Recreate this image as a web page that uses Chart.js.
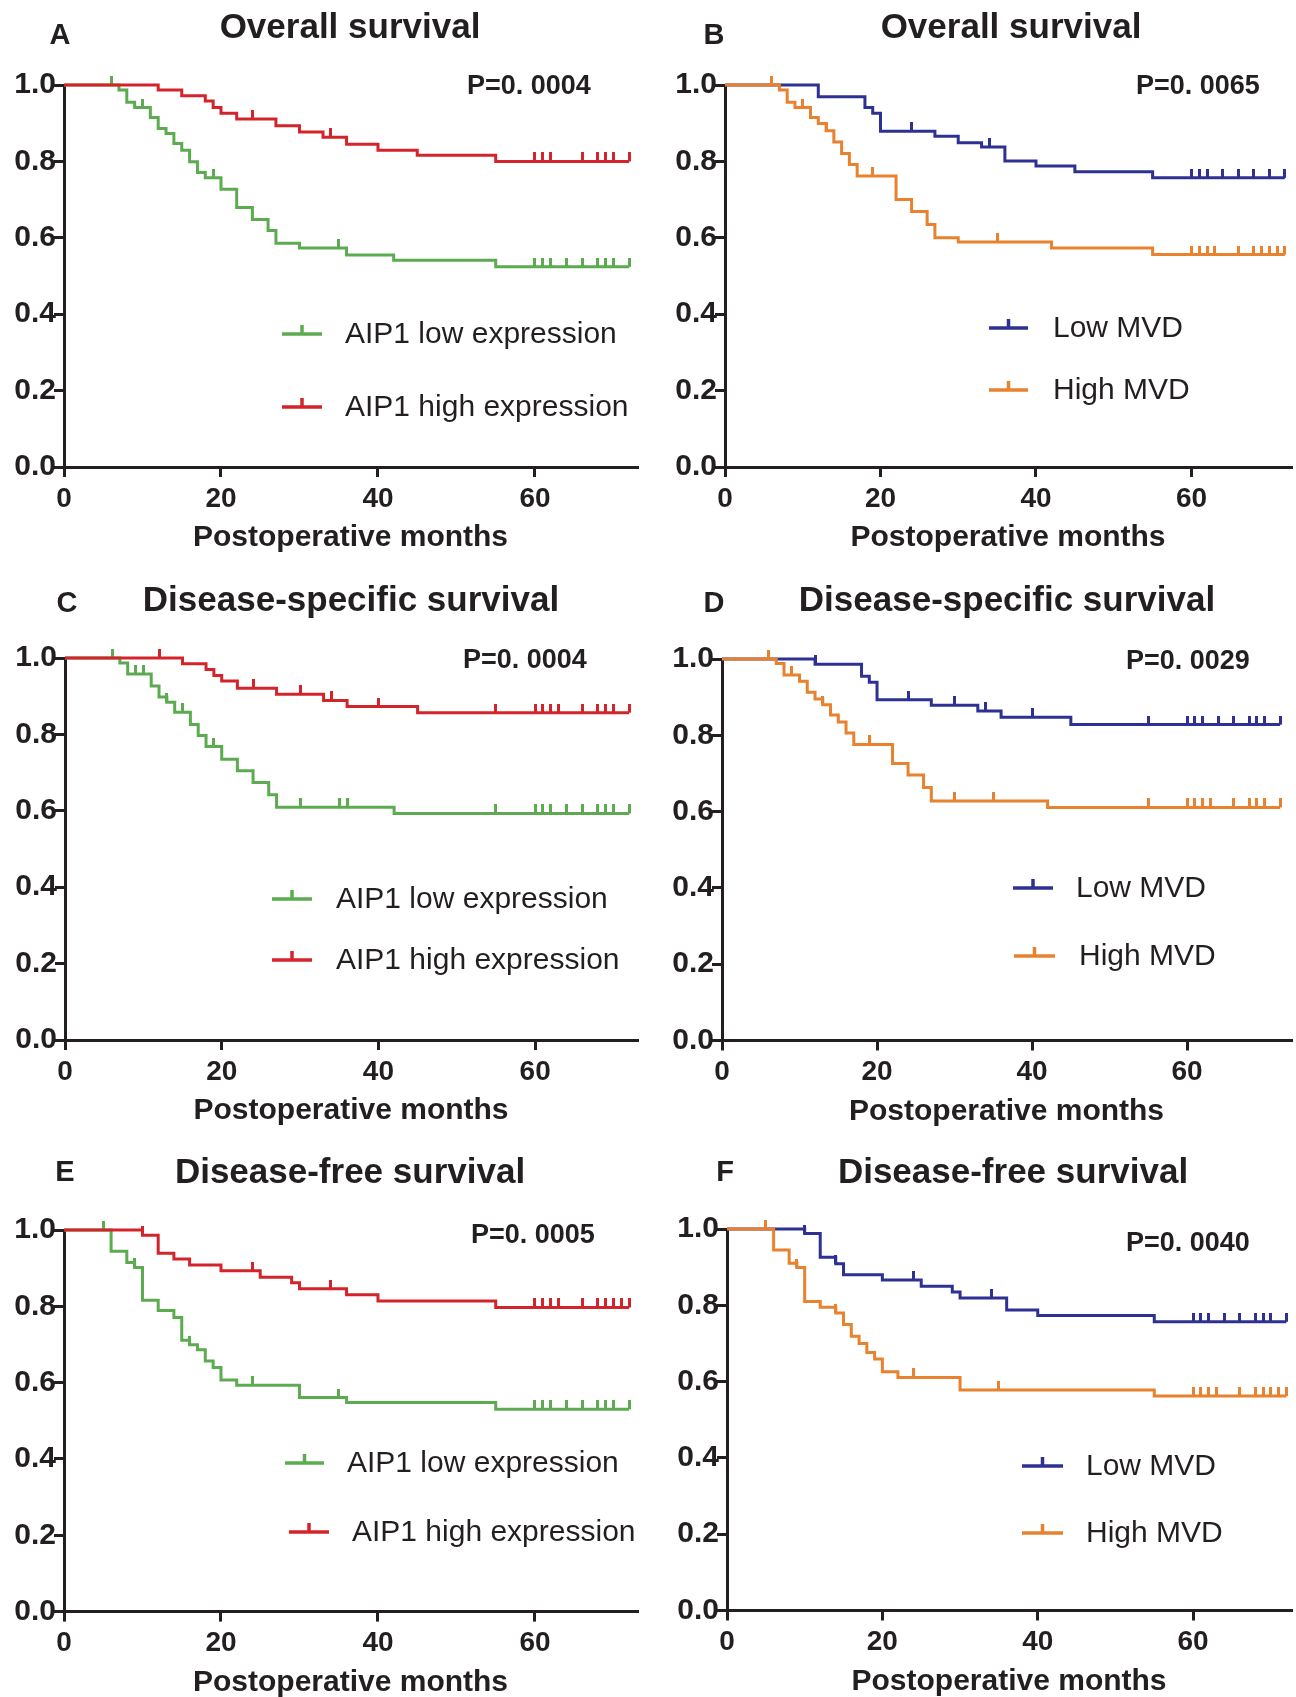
<!DOCTYPE html>
<html lang="en">
<head>
<meta charset="UTF-8">
<title>Kaplan-Meier survival curves</title>
<script src="https://cdn.jsdelivr.net/npm/chart.js"></script>
<style>
    body {
        margin: 0;
        background: #fff;
    }
    #figure {
        position: relative;
        width: 1296px;
        height: 1697px;
        overflow: hidden;
        background: #fff;
    }
    #figure canvas {
        position: absolute;
    }
</style>
</head>
<body>
<div id="figure">
    <canvas id="panelA" width="648" height="560" style="left:0;top:0"></canvas>
    <canvas id="panelB" width="648" height="560" style="left:648px;top:0"></canvas>
    <canvas id="panelC" width="648" height="570" style="left:0;top:560px"></canvas>
    <canvas id="panelD" width="648" height="570" style="left:648px;top:560px"></canvas>
    <canvas id="panelE" width="648" height="567" style="left:0;top:1130px"></canvas>
    <canvas id="panelF" width="648" height="567" style="left:648px;top:1130px"></canvas>
</div>

<script>
// axis ticks
const monthTicks = [0, 20, 40, 60];
const survTicks = [0, 0.2, 0.4, 0.6, 0.8, 1.0];

// group names
const AIP_LOW = 'AIP1 low expression';
const AIP_HIGH = 'AIP1 high expression';
const MVD_LOW = 'Low MVD';
const MVD_HIGH = 'High MVD';

// A - overall survival, AIP1
const aLowT = [0, 7, 8, 9, 11, 12, 13, 14, 15, 16, 17, 18, 20, 22, 24, 26, 27, 30, 36, 42, 55];
const aLowS = [1, .987, .955, .941, .915, .886, .873, .847, .829, .799, .771, .757, .727, .679, .648, .619, .586, .573, .555, .541, .524];
const aLowC = [6, 10, 19, 35, 60, 61, 62, 64, 66, 68, 69, 70, 72];
const aHighT = [0, 12, 15, 18, 19, 20, 22, 27, 30, 33, 36, 40, 45, 55];
const aHighS = [1, .987, .972, .958, .941, .926, .911, .893, .877, .863, .845, .829, .816, .800];
const aHighC = [24, 34, 60, 61, 62, 66, 68, 69, 70, 72];

// B - overall survival, MVD
const bLowT = [0, 12, 18, 19, 20, 27, 30, 33, 36, 40, 45, 55];
const bLowS = [1, .969, .941, .926, .879, .866, .849, .838, .801, .788, .773, .757];
const bLowC = [24, 34, 60, 61, 62, 64, 66, 68, 70, 72];
const bHighT = [0, 7, 8, 9, 11, 12, 13, 14, 15, 16, 17, 22, 24, 26, 27, 30, 42, 55];
const bHighS = [1, .987, .955, .941, .915, .899, .880, .851, .821, .792, .762, .700, .669, .635, .600, .589, .573, .556];
const bHighC = [6, 10, 13, 19, 35, 60, 61, 62, 63, 66, 68, 69, 70, 71, 72];

// C - disease-specific survival, AIP1
const cLowT = [0, 7, 8, 11, 12, 13, 14, 16, 17, 18, 20, 22, 24, 26, 27, 42];
const cLowS = [1, .987, .958, .927, .898, .884, .858, .826, .797, .768, .735, .705, .674, .642, .609, .593];
const cLowC = [6, 9, 10, 13, 15, 19, 30, 35, 36, 55, 60, 61, 62, 64, 66, 68, 69, 70, 72];
const cHighT = [0, 15, 18, 19, 20, 22, 27, 33, 36, 45];
const cHighS = [1, .985, .970, .954, .940, .921, .905, .889, .873, .857];
const cHighC = [12, 24, 30, 34, 40, 55, 60, 61, 62, 63, 66, 68, 69, 70, 72];

// D - disease-specific survival, MVD
const dLowT = [0, 12, 18, 19, 20, 27, 33, 36, 45];
const dLowS = [1, .986, .955, .939, .893, .879, .864, .847, .828];
const dLowC = [12, 24, 30, 34, 40, 55, 60, 61, 62, 64, 66, 68, 69, 70, 72];
const dHighT = [0, 7, 8, 10, 11, 12, 13, 14, 15, 16, 17, 22, 24, 26, 27, 42];
const dHighS = [1, .988, .958, .942, .913, .895, .880, .853, .835, .806, .776, .726, .696, .663, .628, .611];
const dHighC = [6, 9, 13, 19, 30, 35, 55, 60, 61, 62, 63, 66, 68, 69, 70, 72];

// E - disease-free survival, AIP1
const eLowT = [0, 6, 8, 9, 10, 12, 14, 15, 16, 17, 18, 19, 20, 22, 30, 36, 55];
const eLowS = [1, .944, .915, .902, .816, .789, .771, .711, .699, .686, .657, .640, .607, .593, .561, .548, .530];
const eLowC = [5, 9, 16, 24, 35, 60, 61, 62, 64, 66, 68, 69, 70, 72];
const eHighT = [0, 10, 12, 14, 16, 20, 25, 29, 30, 36, 40, 55];
const eHighS = [1, .986, .939, .924, .908, .893, .876, .862, .846, .830, .814, .797];
const eHighC = [10, 24, 34, 60, 61, 62, 63, 66, 68, 69, 70, 71, 72];

// F - disease-free survival, MVD
const fLowT = [0, 10, 12, 14, 15, 20, 25, 29, 30, 36, 40, 55];
const fLowS = [1, .988, .926, .909, .880, .866, .850, .835, .819, .788, .773, .757];
const fLowC = [10, 14, 24, 34, 60, 61, 62, 64, 66, 68, 69, 70, 72];
const fHighT = [0, 6, 8, 9, 10, 12, 14, 15, 16, 17, 18, 19, 20, 22, 30, 55];
const fHighS = [1, .945, .910, .899, .810, .795, .780, .750, .719, .700, .676, .659, .626, .611, .578, .562];
const fHighC = [5, 9, 14, 24, 35, 60, 61, 62, 63, 66, 68, 69, 70, 71, 72];

const INK = '#231f20';
const GREEN = '#5cab50';
const RED = '#d3242b';
const BLUE = '#2e3192';
const ORANGE = '#e8822e';
const FONT = '"Liberation Sans", Arial, sans-serif';

Chart.defaults.font.family = FONT;
Chart.defaults.color = INK;

// panel layout (canvas-local pixels)
const panels = [
    { id: 'panelA', letter: 'A', title: 'Overall survival', p: 'P=0. 0004',
      groups: [[AIP_LOW, GREEN, aLowT, aLowS, aLowC], [AIP_HIGH, RED, aHighT, aHighS, aHighC]],
      yWidth: 64, xHeight: 93, padTop: 85, padRight: 11, xMax: 73, xTitlePad: 4,
      letterPos: [60, 36], titlePos: [350, 28], pPos: [467, 87],
      legend: [[282, 322, 334, 345], [282, 322, 407, 345]] },
    { id: 'panelB', letter: 'B', title: 'Overall survival', p: 'P=0. 0065',
      groups: [[MVD_LOW, BLUE, bLowT, bLowS, bLowC], [MVD_HIGH, ORANGE, bHighT, bHighS, bHighC]],
      yWidth: 77, xHeight: 93, padTop: 85, padRight: 0, xMax: 72.8, xTitlePad: 4,
      letterPos: [66, 36], titlePos: [363, 28], pPos: [488, 87],
      legend: [[341, 380, 328, 405], [341, 380, 390, 405]] },
    { id: 'panelC', letter: 'C', title: 'Disease-specific survival', p: 'P=0. 0004',
      groups: [[AIP_LOW, GREEN, cLowT, cLowS, cLowC], [AIP_HIGH, RED, cHighT, cHighS, cHighC]],
      yWidth: 65, xHeight: 90, padTop: 98, padRight: 11, xMax: 73, xTitlePad: 1,
      letterPos: [67, 44], titlePos: [351, 41], pPos: [463, 101],
      legend: [[272, 312, 339, 336], [272, 312, 400, 336]] },
    { id: 'panelD', letter: 'D', title: 'Disease-specific survival', p: 'P=0. 0029',
      groups: [[MVD_LOW, BLUE, dLowT, dLowS, dLowC], [MVD_HIGH, ORANGE, dHighT, dHighS, dHighC]],
      yWidth: 74, xHeight: 89.5, padTop: 99, padRight: 0, xMax: 73.4, xTitlePad: 0.5,
      letterPos: [66, 44], titlePos: [359, 41], pPos: [478, 102],
      legend: [[365, 405, 328, 428], [366, 407, 396, 431]] },
    { id: 'panelE', letter: 'E', title: 'Disease-free survival', p: 'P=0. 0005',
      groups: [[AIP_LOW, GREEN, eLowT, eLowS, eLowC], [AIP_HIGH, RED, eHighT, eHighS, eHighC]],
      yWidth: 64, xHeight: 85.4, padTop: 100, padRight: 11, xMax: 73, xTitlePad: -3.6,
      letterPos: [65, 43], titlePos: [350, 43], pPos: [471, 106],
      legend: [[285, 324, 333, 347], [289, 329, 402, 352]] },
    { id: 'panelF', letter: 'F', title: 'Disease-free survival', p: 'P=0. 0040',
      groups: [[MVD_LOW, BLUE, fLowT, fLowS, fLowC], [MVD_HIGH, ORANGE, fHighT, fHighS, fHighC]],
      yWidth: 79, xHeight: 86.5, padTop: 99, padRight: 0, xMax: 72.6, xTitlePad: -2.5,
      letterPos: [77, 43], titlePos: [365, 43], pPos: [478, 114],
      legend: [[374, 415, 336, 438], [374, 415, 403, 438]] }
];

// survival value at month x (step function)
function survAt(t, s, x) {
    let v = s[0];
    for (let i = 0; i < t.length; i++) {
        if (t[i] <= x) v = s[i];
    }
    return v;
}

// censor mark: short vertical stroke going up from the point
function censorMark(color) {
    const c = document.createElement('canvas');
    c.width = 3;
    c.height = 18;
    const g = c.getContext('2d');
    g.fillStyle = color;
    g.fillRect(0, 0, 3, 9);
    return c;
}

// letter, title, p value and legend
const panelText = {
    id: 'panelText',
    afterDraw(chart, args, o) {
        const ctx = chart.ctx;
        ctx.save();
        ctx.fillStyle = INK;
        ctx.textBaseline = 'middle';
        ctx.textAlign = 'center';
        ctx.font = 'bold 29px ' + FONT;
        ctx.fillText(o.letter, o.letterPos[0], o.letterPos[1]);
        ctx.font = 'bold 35px ' + FONT;
        ctx.fillText(o.title, o.titlePos[0], o.titlePos[1]);
        ctx.textAlign = 'left';
        ctx.font = 'bold 27px ' + FONT;
        ctx.fillText(o.p, o.pPos[0], o.pPos[1]);

        ctx.font = '30px ' + FONT;
        o.legend.forEach((e, i) => {
            const ds = chart.data.datasets[i];
            const [x1, x2, y, tx] = e;
            ctx.strokeStyle = ds.borderColor;
            ctx.lineWidth = 3.5;
            ctx.beginPath();
            ctx.moveTo(x1, y);
            ctx.lineTo(x2, y);
            const mid = (x1 + x2) / 2;
            ctx.moveTo(mid, y);
            ctx.lineTo(mid, y - 9);
            ctx.stroke();
            ctx.fillStyle = INK;
            ctx.fillText(ds.label, tx, y + 1);
        });
        ctx.restore();
    }
};

panels.forEach(p => {
    const lines = [];
    const marks = [];
    p.groups.forEach((g, i) => {
        const [label, color, t, s, c] = g;
        const pts = t.map((x, k) => ({ x: x, y: s[k] }));
        const end = Math.max(...c);
        if (end > t[t.length - 1]) pts.push({ x: end, y: s[s.length - 1] });
        lines.push({
            label: label,
            data: pts,
            borderColor: color,
            borderWidth: 3,
            stepped: true,
            pointRadius: 0,
            fill: false,
            clip: false,
            order: 2 - i
        });
        marks.push({
            label: label + ' censored',
            data: c.map(x => ({ x: x, y: survAt(t, s, x) })),
            showLine: false,
            pointStyle: censorMark(color),
            pointRadius: 3,
            clip: false,
            order: 2 - i
        });
    });

    new Chart(document.getElementById(p.id), {
        type: 'line',
        data: { datasets: lines.concat(marks) },
        options: {
            responsive: false,
            animation: false,
            events: [],
            layout: { padding: { top: p.padTop, right: p.padRight, left: 0, bottom: 0 } },
            plugins: {
                legend: { display: false },
                tooltip: { enabled: false },
                panelText: {
                    letter: p.letter, title: p.title, p: p.p,
                    letterPos: p.letterPos, titlePos: p.titlePos, pPos: p.pPos,
                    legend: p.legend
                }
            },
            scales: {
                x: {
                    type: 'linear',
                    min: 0,
                    max: p.xMax,
                    afterFit: s => { s.height = p.xHeight; },
                    afterBuildTicks: s => { s.ticks = monthTicks.map(v => ({ value: v })); },
                    ticks: {
                        font: { size: 28, weight: 'bold' },
                        color: INK,
                        padding: 5,
                        maxRotation: 0,
                        callback: v => String(v)
                    },
                    grid: { drawOnChartArea: false, drawTicks: true, tickLength: 10, color: INK, lineWidth: 3 },
                    border: { display: true, color: INK, width: 3 },
                    title: {
                        display: true,
                        text: 'Postoperative months',
                        font: { size: 30, weight: 'bold' },
                        color: INK,
                        padding: { top: 0, bottom: p.xTitlePad }
                    }
                },
                y: {
                    min: 0,
                    max: 1,
                    afterFit: s => { s.width = p.yWidth; },
                    afterBuildTicks: s => { s.ticks = survTicks.map(v => ({ value: v })); },
                    ticks: {
                        font: { size: 30, weight: 'bold' },
                        color: INK,
                        padding: -2,
                        callback: v => v.toFixed(1)
                    },
                    grid: { drawOnChartArea: false, drawTicks: true, tickLength: 10, color: INK, lineWidth: 3 },
                    border: { display: true, color: INK, width: 3 }
                }
            }
        },
        plugins: [panelText]
    });
});
</script>
</body>
</html>
